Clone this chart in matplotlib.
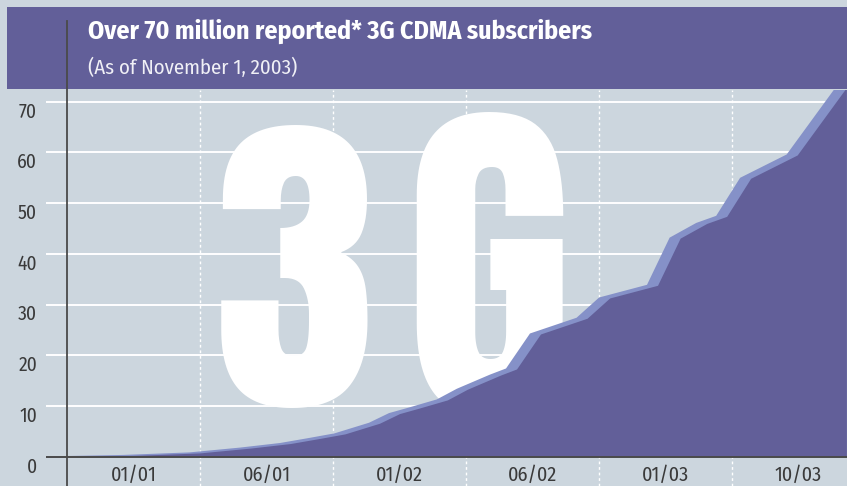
''' 3G CDMA subscriber growth, area chart with big "3G" watermark '''

import matplotlib
matplotlib.use('Agg')
import matplotlib.pyplot as plt
from matplotlib.patches import Rectangle
from matplotlib.lines import Line2D
from matplotlib.font_manager import FontProperties
from matplotlib.textpath import TextPath
from matplotlib.transforms import ScaledTranslation, blended_transform_factory

# figure size in pixels
W, H = 847, 486
DPI = 100

BG = '#ccd6de'
PURPLE = '#625f99'
LIGHT = '#8591c8'
TXT = '#3a3a3a'

COND = ['Fira Sans Condensed', 'DejaVu Sans']
HEAVY = ['Anton', 'Fira Sans Condensed', 'DejaVu Sans']

# data: x in label slots (slot k spans k..k+1), y in millions
slot_x = [0.00, 0.50, 1.00, 1.38, 1.68, 1.90, 2.09, 2.35, 2.50, 2.65, 2.86, 3.01,
          3.26, 3.38, 3.56, 3.91, 4.08, 4.44, 4.61, 4.81, 4.96, 5.14, 5.49, 5.86]
subscribers = [0.0, 0.25, 0.75, 1.7, 2.6, 3.6, 4.5, 6.6, 8.5, 9.6, 11.2, 13.3,
               16.1, 17.3, 24.2, 27.3, 31.3, 33.8, 43.1, 46.0, 47.4, 54.9, 59.5, 72.8]
date_labels = ['01/01', '06/01', '01/02', '06/02', '01/03', '10/03']
y_ticks = [0, 10, 20, 30, 40, 50, 60, 70]

title = 'Over 70 million reported* 3G CDMA subscribers'
subtitle = '(As of November 1, 2003)'


def fx(px):
    return px / W


def fy(py):
    return 1 - py / H


def watermark(ax, char, cx, top, bottom):
    ''' place a big glyph so its ink is centred on cx and spans top..bottom (px) '''
    prop = FontProperties(family=HEAVY, weight='black')
    ext = TextPath((0, 0), char, size=1, prop=prop).get_extents()
    ppe = (bottom - top) / ext.height          # pixels per em
    size = ppe * 72 / DPI
    left = cx - ext.width * ppe / 2 - ext.x0 * ppe
    base = bottom + ext.y0 * ppe
    ax.text(fx(left), fy(base), char, transform=ax.figure.transFigure,
            fontproperties=prop, fontsize=size, color='white', ha='left',
            va='baseline', zorder=1.5)


fig = plt.figure(figsize=(W / DPI, H / DPI), dpi=DPI, facecolor=BG)

# axes from x=46px to right edge, y=90px to bottom
ax = fig.add_axes([fx(46), 0, 1 - fx(46), fy(90)])
ax.set_facecolor(BG)
slot_px = 133.0
x0 = -(67 - 46) / slot_px
ax.set_xlim(x0, x0 + (W - 46) / slot_px)
ax.set_ylim(-(486 - 456.7) / 5.071, (456.7 - 90) / 5.071)
ax.axis('off')

# white gridlines
for v in y_ticks[1:]:
    ax.axhline(v, color='white', lw=1.4, zorder=1)
# dashed slot separators
for k in range(1, len(date_labels)):
    ax.axvline(k, color='white', lw=1.0, dashes=(2, 2), zorder=1)

# big watermark
watermark(ax, '3', 294, 125, 408)
watermark(ax, 'G', 489, 113, 414)

# light "edge" band: same curve shifted left, extended past the right edge
slope = (subscribers[-1] - subscribers[-2]) / (slot_x[-1] - slot_x[-2])
band_x = slot_x + [slot_x[-1] + 0.3]
band_y = subscribers + [subscribers[-1] + slope * 0.3]
shift = ScaledTranslation(-11 / DPI, 1 / DPI, fig.dpi_scale_trans)
ax.fill_between(band_x, band_y, 0, color=LIGHT, lw=0,
                transform=ax.transData + shift, zorder=2)
ax.fill_between(slot_x, subscribers, 0, color=PURPLE, lw=0, zorder=3)

# zero line
ax.axhline(0, color='#4a4a4a', lw=1.4, zorder=4)

# tick labels
ylab_tr = blended_transform_factory(fig.transFigure, ax.transData)
for v in y_ticks:
    ax.text(fx(37), v - 2.0, str(v), transform=ylab_tr, ha='right', va='center',
            family=COND, fontsize=14, color=TXT)
for k, lab in enumerate(date_labels):
    ax.text(k + 0.5, -3.6, lab, ha='center', va='center', family=COND,
            fontsize=14.5, color=TXT)

# header band
fig.patches.append(Rectangle((fx(7), fy(89)), 1 - fx(7), (89 - 7) / H,
                             transform=fig.transFigure, facecolor=PURPLE,
                             edgecolor='none', zorder=1))
fig.text(fx(88), fy(31), title, family=COND, weight='bold', fontsize=18.6,
         color='white', ha='left', va='center', zorder=5)
fig.text(fx(88), fy(68), subtitle, family=COND, fontsize=15,
         color='#f0f0f6', ha='left', va='center', zorder=5)

# y axis line, runs up into the header
fig.lines.append(Line2D([fx(67), fx(67)], [fy(21), 0], transform=fig.transFigure,
                        color='#4a4a4a', lw=1.3, zorder=6))

fig.savefig('out.png', dpi=DPI, facecolor=BG)
